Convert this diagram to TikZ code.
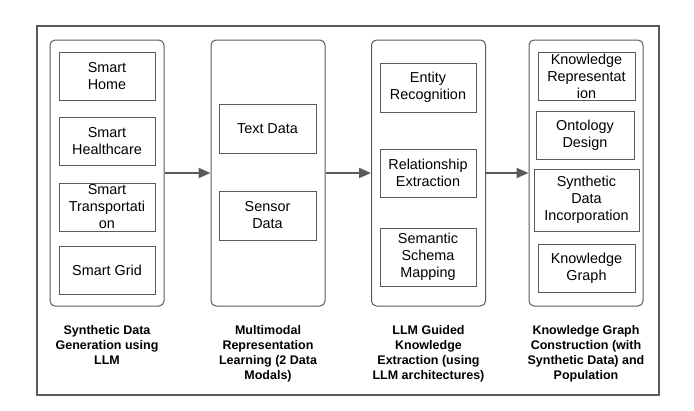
\documentclass[tikz,border=0pt]{standalone}
\usepackage{fontspec}
\setmainfont{Liberation Sans}
\usetikzlibrary{arrows.meta}
\definecolor{linegray}{HTML}{5A5A5A}

\begin{document}
\begin{tikzpicture}[x=1pt,y=-1pt]
\tikzstyle{every node}+=[inner sep=0pt]
\tikzstyle{stage}=[draw=linegray, line width=1pt, rounded corners=5pt, minimum width=114pt, minimum height=266pt]
\tikzstyle{item}=[draw=linegray, line width=1pt, align=center, font=\fontsize{14.4}{17}\selectfont]
\tikzstyle{caption}=[anchor=north, align=center, font=\fontsize{12.5}{15}\selectfont\bfseries]
\tikzstyle{flow}=[draw=linegray, line width=2pt, -{Triangle[length=12pt,width=10pt]}]

\useasboundingbox (0,0) rectangle (694,410);
\draw [linegray, line width=1.2pt] (37,26) rectangle (659,395);

% stages
\node [stage] (gen) at (107,173) {};
\node [stage] (rep) at (268,173) {};
\node [stage] (ext) at (428.5,173) {};
\node [stage] (kg) at (586,173) {};

% synthetic data generation
\node [item, minimum width=96pt, minimum height=48pt] (home) at (107,76) {Smart\\Home};
\node [item, minimum width=96pt, minimum height=48pt] (health) at (107,141.5) {Smart\\Healthcare};
\node [item, minimum width=96pt, minimum height=48pt] (trans) at (107,207) {Smart\\Transportati\\on};
\node [item, minimum width=96pt, minimum height=48pt] (grid) at (107,270) {Smart Grid};

% representation learning
\node [item, minimum width=97pt, minimum height=49pt] (text) at (267.5,128.5) {Text Data};
\node [item, minimum width=97pt, minimum height=49pt] (sensor) at (267.5,215.5) {Sensor\\Data};

% knowledge extraction
\node [item, minimum width=96pt, minimum height=49pt] (entity) at (428,87.5) {Entity\\Recognition};
\node [item, minimum width=96pt, minimum height=48pt] (relation) at (428,173) {Relationship\\Extraction};
\node [item, minimum width=96pt, minimum height=58pt] (schema) at (428,257) {Semantic\\Schema\\Mapping};

% graph construction
\node [item, minimum width=97pt, minimum height=48pt] (krep) at (586.5,76) {Knowledge\\Representat\\ion};
\node [item, minimum width=98pt, minimum height=48pt] (onto) at (585,135) {Ontology\\Design};
\node [item, minimum width=105pt, minimum height=62pt] (synth) at (586.5,200) {Synthetic\\Data\\Incorporation};
\node [item, minimum width=97pt, minimum height=48pt] (graph) at (586.5,268) {Knowledge\\Graph};

\draw [flow] (gen) -- (rep);
\draw [flow] (rep) -- (ext);
\draw [flow] (ext) -- (kg);

\node [caption] (gencap) at (107,325) {Synthetic Data\\Generation using\\LLM};
\node [caption] (repcap) at (268,325) {Multimodal\\Representation\\Learning (2 Data\\Modals)};
\node [caption] (extcap) at (428.5,325) {LLM Guided\\Knowledge\\Extraction (using\\LLM architectures)};
\node [caption] (kgcap) at (586,325) {Knowledge Graph\\Construction (with\\Synthetic Data) and\\Population};
\end{tikzpicture}
\end{document}
